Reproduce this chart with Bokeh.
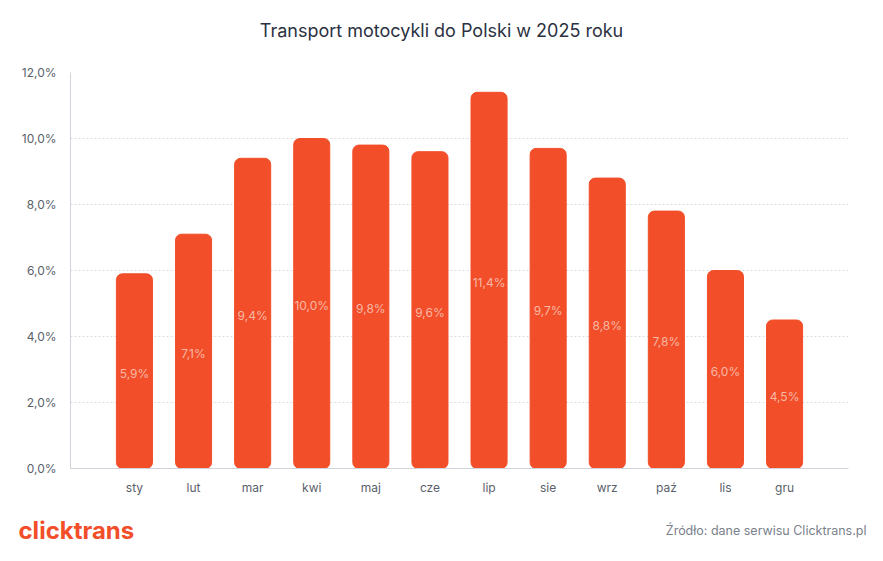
from bokeh.plotting import figure
from bokeh.layouts import column
from bokeh.models import ColumnDataSource, FactorRange, Range1d, FixedTicker, CustomJSTickFormatter, Label
from bokeh.core.properties import value
from bokeh.embed import file_html
from bokeh.resources import INLINE

months = ["sty", "lut", "mar", "kwi", "maj", "cze", "lip", "sie", "wrz", "paź", "lis", "gru"]
shares = [5.9, 7.1, 9.4, 10.0, 9.8, 9.6, 11.4, 9.7, 8.8, 7.8, 6.0, 4.5]
y_ticks = [0, 2, 4, 6, 8, 10, 12]

title_text = "Transport motocykli do Polski w 2025 roku"
logo_text = "clicktrans"
source_text = "Źródło: dane serwisu Clicktrans.pl"

labels = [f"{v:.1f}".replace(".", ",") + "%" for v in shares]
src = ColumnDataSource(dict(m=months, v=shares, mid=[v / 2 for v in shares], lab=labels))

FONT = "Inter"
W = 883


def blank(h):
    f = figure(width=W, height=h, output_backend="svg", toolbar_location=None,
               x_range=Range1d(0, W), y_range=Range1d(0, h), x_axis_type=None, y_axis_type=None,
               min_border=0, outline_line_color=None, frame_align=False)
    f.grid.visible = False
    return f


header = blank(45)
header.add_layout(Label(x=441, y=15, text=title_text, text_align="center", text_baseline="middle",
                        text_font=FONT, text_font_size="18px", text_color="#2b3142"))

p = figure(width=W, height=460, output_backend="svg", toolbar_location=None,
           x_range=FactorRange(*months, range_padding=0.097), y_range=Range1d(0, 12),
           min_border_left=70, min_border_right=35, min_border_top=27, min_border_bottom=37,
           outline_line_color=None, frame_align=False)

p.vbar(x="m", top="v", width=0.61, source=src, color="#f24e29", border_radius=6)
p.text(x="m", y="mid", text="lab", source=src, text_align="center", text_baseline="middle",
       text_font=value(FONT), text_font_size="12px", text_color="#f8b8a5", y_offset=2)

p.yaxis.ticker = FixedTicker(ticks=y_ticks)
p.yaxis.formatter = CustomJSTickFormatter(code="return tick.toFixed(1).replace('.', ',') + '%';")
for ax in (p.xaxis, p.yaxis):
    ax.major_tick_line_color = None
    ax.minor_tick_line_color = None
    ax.axis_line_color = "#d0d3da"
    ax.major_label_text_font = FONT
    ax.major_label_text_font_size = "12px"
    ax.major_label_text_color = "#5a5f6b"
p.yaxis.major_label_standoff = 8
p.xaxis.major_label_standoff = 5
p.xgrid.grid_line_color = None
p.ygrid.grid_line_color = "#dcdde2"
p.ygrid.grid_line_dash = "2 2"

footer = blank(56)
footer.add_layout(Label(x=18, y=31, text=logo_text, text_align="left", text_baseline="middle",
                        text_font=FONT, text_font_size="24px", text_font_style="bold",
                        text_color="#f24e29"))
footer.add_layout(Label(x=866, y=31, text=source_text, text_align="right", text_baseline="middle",
                        text_font=FONT, text_font_size="12.5px", text_color="#7a7f8c"))

layout = column(header, p, footer, spacing=0)
open("out.html", "w").write(file_html(layout, INLINE))
